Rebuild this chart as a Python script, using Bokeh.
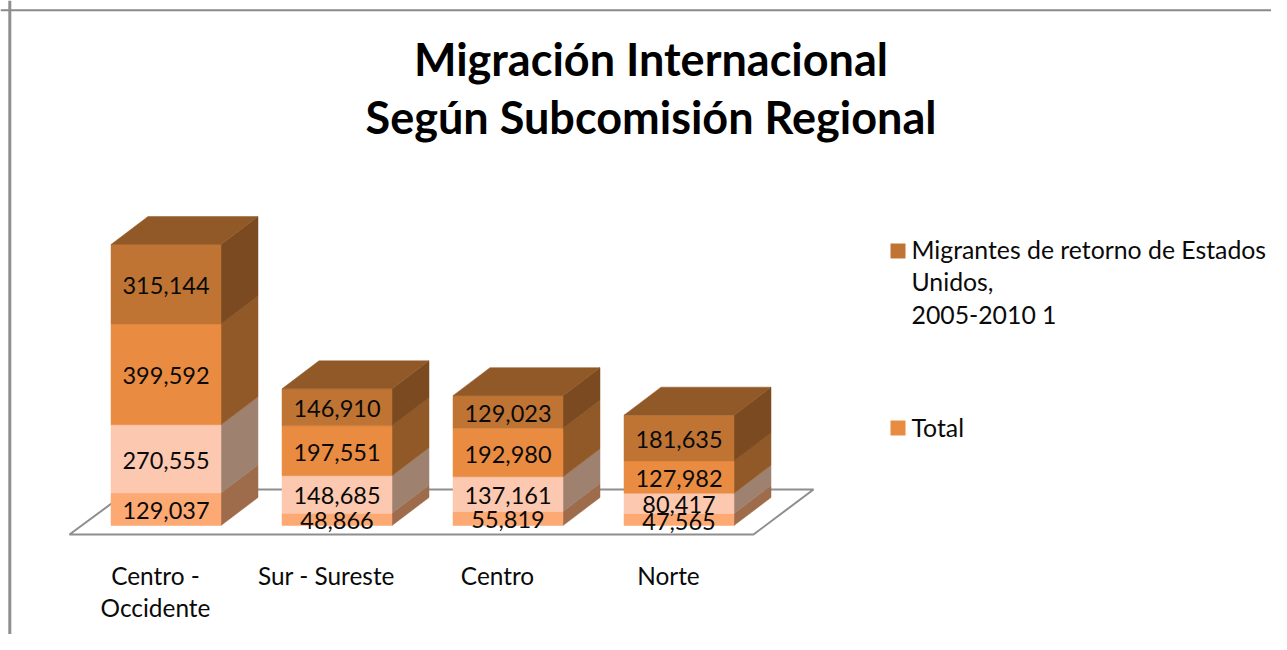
from bokeh.plotting import figure
from bokeh.embed import file_html
from bokeh.resources import INLINE
from bokeh.models import Range1d, Label, Span, BoxAnnotation, FixedTicker, ColumnDataSource
from bokeh.core.properties import value

# ---- data ----
categories = ["Centro -\nOccidente", "Sur - Sureste", "Centro", "Norte"]
serie_a = [129037, 48866, 55819, 47565]
serie_b = [270555, 148685, 137161, 80417]
total = [399592, 197551, 192980, 127982]
migrantes = [315144, 146910, 129023, 181635]
title_text = "Migración Internacional\nSegún Subcomisión Regional"
legend_migrantes = "Migrantes de retorno de Estados\nUnidos,\n2005-2010 1"
legend_total = "Total"

series = [serie_a, serie_b, total, migrantes]
front_colors = ["#FCA974", "#FCC9B0", "#E98C41", "#C07434"]
side_colors = ["#9E6B4B", "#9F8170", "#925928", "#7B4A20"]
top_color = "#925928"

# ---- geometry (picture pixels) ----
FRAME_L, FRAME_T, FRAME_W, FRAME_H = 0, 0, 1271, 634
PX_PER_VAL = 281.0 / 1114328
BASE_PX = 525.0
SPACING = 171.0
TICK0_PX = 155.0
BAR_OFF = 10.5 / SPACING
BAR_W = 110.0 / SPACING
DX = 37.0 / SPACING
DY = 28.0 / PX_PER_VAL


def px_x(px):
    return (px - TICK0_PX) / SPACING


def px_y(px):
    return (BASE_PX - px) / PX_PER_VAL


p = figure(
    frame_width=FRAME_W, frame_height=FRAME_H, width=1271, height=634,
    output_backend="svg", toolbar_location=None, tools="",
    x_range=Range1d(px_x(FRAME_L), px_x(FRAME_L + FRAME_W)),
    y_range=Range1d(px_y(FRAME_T + FRAME_H), px_y(FRAME_T)),
    min_border=0, min_border_bottom=0, min_border_left=0, min_border_right=0, min_border_top=0,
    outline_line_color=None, background_fill_color="white", border_fill_color="white",
)
p.grid.visible = False
p.yaxis.visible = False

ax = p.xaxis[0]
ax.fixed_location = px_y(535)
ax.ticker = FixedTicker(ticks=list(range(len(categories))))
ax.major_label_overrides = {i: c for i, c in enumerate(categories)}
ax.axis_line_color = None
ax.major_tick_line_color = None
ax.minor_tick_line_color = None
ax.major_label_standoff = 19
ax.major_label_text_font = "Lato"
ax.major_label_text_font_size = "24.4px"
ax.major_label_text_color = "#0a0a0a"
ax.major_label_text_line_height = 1.12

# page border (top and left only)
p.add_layout(Span(location=px_y(9.7), dimension="width", line_color="#8a8a8a", line_width=2))
p.add_layout(Span(location=px_x(9.3), dimension="height", line_color="#8f8f8f", line_width=3))

# floor
p.patch([px_x(69), px_x(753), px_x(813), px_x(130)],
        [px_y(534), px_y(534), px_y(489), px_y(489)],
        fill_color="white", line_color="#8e8e8e", line_width=2)

# bars
for k, vals in enumerate(series):
    bottoms = [sum(s[i] for s in series[:k]) for i in range(len(vals))]
    tops = [b + v for b, v in zip(bottoms, vals)]
    xc = [i + BAR_OFF for i in range(len(vals))]
    right = [x + BAR_W / 2 for x in xc]
    p.patches(
        [[r, r + DX, r + DX, r] for r in right],
        [[b, b + DY, t + DY, t] for b, t in zip(bottoms, tops)],
        fill_color=side_colors[k], line_color=side_colors[k], line_width=0.5,
    )
    p.vbar(x=xc, bottom=bottoms, top=tops, width=BAR_W,
           fill_color=front_colors[k], line_color=front_colors[k], line_width=0.5)

# top faces
tot = [sum(s[i] for s in series) for i in range(len(categories))]
lefts = [i + BAR_OFF - BAR_W / 2 for i in range(len(categories))]
p.patches(
    [[l, l + BAR_W, l + BAR_W + DX, l + DX] for l in lefts],
    [[t, t, t + DY, t + DY] for t in tot],
    fill_color=top_color, line_color=top_color, line_width=0.5,
)

# data labels
for k, vals in enumerate(series):
    bottoms = [sum(s[i] for s in series[:k]) for i in range(len(vals))]
    src = ColumnDataSource(dict(
        x=[i + BAR_OFF for i in range(len(vals))],
        y=[b + v / 2 - 1.5 / PX_PER_VAL for b, v in zip(bottoms, vals)],
        t=[f"{v:,}" for v in vals],
    ))
    p.text(x="x", y="y", text="t", source=src, text_align="center", text_baseline="middle",
           text_font=value("Lato"), text_font_size="23.5px", text_color="#0a0a0a")

# title
p.add_layout(Label(x=px_x(650.5), y=px_y(31), text=title_text, text_align="center", text_baseline="top",
                   text_font="Lato", text_font_style="bold", text_font_size="45px",
                   text_color="#000000", text_line_height=1.09))

# legend
p.add_layout(BoxAnnotation(left=px_x(890), right=px_x(905), top=px_y(243), bottom=px_y(258),
                           fill_color=front_colors[3], fill_alpha=1, line_color=None))
p.add_layout(BoxAnnotation(left=px_x(890), right=px_x(905), top=px_y(420), bottom=px_y(435),
                           fill_color=front_colors[2], fill_alpha=1, line_color=None))
p.add_layout(Label(x=px_x(911), y=px_y(234), text=legend_migrantes, text_align="left", text_baseline="top",
                   text_font="Lato", text_font_size="24.8px", text_color="#0a0a0a", text_line_height=1.137))
p.add_layout(Label(x=px_x(911), y=px_y(412), text=legend_total, text_align="left", text_baseline="top",
                   text_font="Lato", text_font_size="24.8px", text_color="#0a0a0a"))

open("out.html", "w").write(file_html(p, INLINE))
